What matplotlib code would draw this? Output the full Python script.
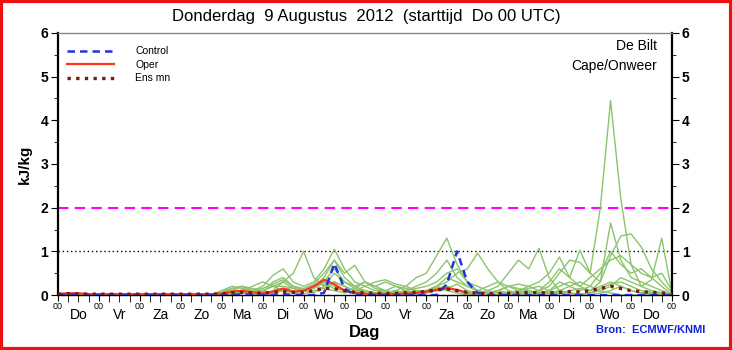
import numpy as np
import matplotlib.pyplot as plt
from matplotlib.patches import Rectangle
from matplotlib.ticker import MultipleLocator, FixedLocator

plt.rcParams['font.family'] = ['Liberation Sans', 'DejaVu Sans']

# forecast steps, 6-hourly over 15 days
hours = np.arange(0, 361, 6)
day_names = ['Do', 'Vr', 'Za', 'Zo', 'Ma', 'Di', 'Wo',
             'Do', 'Vr', 'Za', 'Zo', 'Ma', 'Di', 'Wo', 'Do']

# ensemble members: first 4 days zero, then values from Ma (step 16) to the end
quiet = [0.0] * 16
members = [
    quiet + [0.05, 0.15, 0.2, 0.15, 0.1, 0.2, 0.3, 0.5, 1.0, 0.4, 0.2, 0.3,
             0.2, 0.1, 0.1, 0.05, 0.05, 0.1, 0.2, 0.4, 0.5, 0.9, 1.3, 0.7,
             0.3, 0.1, 0.05, 0.05, 0.0, 0.0, 0.0, 0.05, 0.1, 0.05, 0.0, 0.0,
             0.05, 0.1, 0.05, 0.0, 0.0, 0.0, 0.05, 0.0, 0.0],
    quiet + [0.1, 0.2, 0.15, 0.1, 0.2, 0.45, 0.6, 0.3, 0.2, 0.3, 0.6, 1.05,
             0.6, 0.3, 0.2, 0.1, 0.1, 0.2, 0.15, 0.1, 0.1, 0.2, 0.3, 0.5,
             0.6, 0.96, 0.6, 0.3, 0.1, 0.05, 0.0, 0.0, 0.05, 0.1, 0.05, 0.0,
             0.0, 0.05, 0.1, 0.2, 0.1, 0.05, 0.0, 0.0, 0.0],
    quiet + [0.0, 0.1, 0.2, 0.1, 0.05, 0.3, 0.4, 0.2, 0.1, 0.2, 0.4, 0.8,
             0.5, 0.68, 0.3, 0.2, 0.3, 0.2, 0.1, 0.05, 0.1, 0.2, 0.1, 0.05,
             0.0, 0.05, 0.1, 0.2, 0.5, 0.8, 0.6, 1.07, 0.4, 0.1, 0.2, 0.3,
             0.2, 0.1, 0.2, 0.4, 0.3, 0.2, 0.35, 1.3, 0.05],
    quiet + [0.0, 0.05, 0.1, 0.2, 0.3, 0.2, 0.1, 0.05, 0.1, 0.2, 0.15, 0.1,
             0.05, 0.1, 0.2, 0.3, 0.35, 0.25, 0.2, 0.1, 0.1, 0.2, 0.4, 0.3,
             0.2, 0.1, 0.05, 0.1, 0.2, 0.25, 0.2, 0.1, 0.2, 0.5, 0.8, 0.75,
             0.5, 2.0, 4.45, 2.2, 0.7, 0.2, 0.1, 0.05, 0.0],
    quiet + [0.0, 0.0, 0.05, 0.1, 0.1, 0.05, 0.1, 0.2, 0.1, 0.05, 0.2, 0.5,
             0.3, 0.2, 0.1, 0.05, 0.0, 0.05, 0.1, 0.05, 0.05, 0.1, 0.2, 0.1,
             0.05, 0.0, 0.05, 0.1, 0.2, 0.1, 0.05, 0.1, 0.3, 0.6, 0.4, 1.03,
             0.5, 0.3, 1.65, 0.8, 0.4, 0.3, 0.2, 0.1, 0.0],
    quiet + [0.05, 0.1, 0.05, 0.0, 0.0, 0.1, 0.3, 0.15, 0.1, 0.2, 0.3, 0.2,
             0.1, 0.15, 0.3, 0.2, 0.1, 0.05, 0.1, 0.2, 0.3, 0.5, 0.8, 0.4,
             0.2, 0.1, 0.05, 0.0, 0.05, 0.1, 0.2, 0.3, 0.5, 0.87, 0.4, 0.2,
             0.1, 0.3, 0.9, 1.35, 1.4, 1.1, 0.6, 0.3, 0.05],
    quiet + [0.1, 0.15, 0.2, 0.1, 0.15, 0.25, 0.35, 0.2, 0.15, 0.25, 0.5, 0.8,
             0.4, 0.2, 0.3, 0.15, 0.1, 0.05, 0.1, 0.15, 0.2, 0.3, 0.5, 0.6,
             0.3, 0.2, 0.1, 0.05, 0.05, 0.1, 0.15, 0.2, 0.1, 0.2, 0.3, 0.2,
             0.4, 0.6, 0.8, 0.9, 0.7, 0.5, 0.4, 0.2, 0.0],
    quiet + [0.05, 0.1, 0.1, 0.05, 0.1, 0.2, 0.2, 0.15, 0.1, 0.15, 0.3, 0.6,
             0.3, 0.15, 0.1, 0.05, 0.05, 0.1, 0.05, 0.0, 0.05, 0.15, 0.2, 0.1,
             0.05, 0.1, 0.2, 0.3, 0.2, 0.15, 0.1, 0.05, 0.1, 0.3, 0.2, 0.1,
             0.2, 0.5, 1.0, 0.7, 0.5, 0.6, 0.4, 0.5, 0.1],
    quiet + [0.02, 0.05, 0.1, 0.05, 0.02, 0.05, 0.1, 0.05, 0.1, 0.2, 0.25, 0.15,
             0.1, 0.05, 0.02, 0.05, 0.1, 0.05, 0.02, 0.05, 0.1, 0.15, 0.2, 0.1,
             0.05, 0.02, 0.05, 0.1, 0.05, 0.02, 0.05, 0.1, 0.05, 0.02, 0.1, 0.15,
             0.1, 0.2, 0.3, 0.2, 0.1, 0.05, 0.1, 0.05, 0.0],
    quiet + [0.0, 0.02, 0.05, 0.02, 0.0, 0.05, 0.1, 0.05, 0.02, 0.1, 0.15, 0.3,
             0.2, 0.1, 0.05, 0.02, 0.0, 0.02, 0.05, 0.1, 0.05, 0.1, 0.15, 0.25,
             0.1, 0.05, 0.02, 0.0, 0.02, 0.05, 0.1, 0.05, 0.02, 0.1, 0.05, 0.02,
             0.05, 0.15, 0.25, 0.3, 0.2, 0.1, 0.05, 0.02, 0.0],
]

control = [0.02, 0.02, 0.02, 0.0, 0.0, 0.0, 0.0, 0.0, 0.0, 0.0, 0.0, 0.0,
           0.0, 0.0, 0.0, 0.0, 0.0, 0.0, 0.02, 0.0, 0.0, 0.0, 0.02, 0.0,
           0.0, 0.0, 0.05, 0.72, 0.15, 0.0, 0.0, 0.0, 0.0, 0.0, 0.0, 0.0,
           0.0, 0.0, 0.25, 1.0, 0.3, 0.05, 0.0, 0.0, 0.0, 0.0, 0.0, 0.0,
           0.0, 0.0, 0.0, 0.0, 0.0, 0.0, 0.0, 0.0, 0.0, 0.0, 0.0, 0.0, 0.0]

# operational run only goes 10 days
oper = [0.02, 0.04, 0.04, 0.02, 0.02, 0.02, 0.02, 0.02, 0.02, 0.02, 0.02, 0.02,
        0.02, 0.02, 0.02, 0.02, 0.03, 0.08, 0.1, 0.06, 0.04, 0.08, 0.15, 0.08,
        0.1, 0.2, 0.35, 0.25, 0.1, 0.05, 0.03, 0.02, 0.02, 0.02, 0.03, 0.05,
        0.08, 0.12, 0.15, 0.12, 0.05]

ens_mean = [0.02, 0.03, 0.03, 0.02, 0.02, 0.02, 0.02, 0.02, 0.02, 0.02, 0.02, 0.02,
            0.02, 0.02, 0.02, 0.02, 0.03, 0.05, 0.06, 0.05, 0.04, 0.06, 0.08, 0.06,
            0.06, 0.1, 0.15, 0.15, 0.1, 0.06, 0.05, 0.04, 0.03, 0.04, 0.05, 0.06,
            0.08, 0.12, 0.14, 0.1, 0.06, 0.04, 0.03, 0.03, 0.04, 0.05, 0.06, 0.05,
            0.05, 0.06, 0.08, 0.07, 0.1, 0.15, 0.2, 0.15, 0.1, 0.08, 0.06, 0.05, 0.03]

fig = plt.figure(figsize=(7.32, 3.5), dpi=100)
ax = fig.add_axes([0.0792, 0.157, 0.8388, 0.749])

for m in members:
    ax.plot(hours, m, color='#8cc46c', lw=1.0, zorder=2)

ax.axhline(2, color='#ff00ff', ls=(0, (5, 3)), lw=1.5, zorder=1)
ax.axhline(1, color='black', ls=(0, (1, 2)), lw=1.0, zorder=1)

ln_c, = ax.plot(hours, control, color='#2233dd', ls=(0, (3, 2)), lw=1.8, zorder=4)
ln_o, = ax.plot(hours[:len(oper)], oper, color='#ff3322', lw=1.6, zorder=3)
ln_e, = ax.plot(hours, ens_mean, color='#7a1a10', ls=(0, (1, 1.6)), lw=2.4, zorder=5)

ax.legend([ln_c, ln_o, ln_e], ['Control', 'Oper', 'Ens mn'], loc='upper left',
          bbox_to_anchor=(0.0, 0.985), frameon=False, fontsize=7.5,
          handlelength=4.5, labelspacing=0.35, handletextpad=2.0)

ax.set_xlim(0, 360)
ax.set_ylim(0, 6)

# y axis on both sides
ax.yaxis.set_major_locator(MultipleLocator(1))
ax.yaxis.set_minor_locator(MultipleLocator(0.5))
ax.tick_params(axis='y', which='both', left=True, right=True, labelleft=True,
               labelright=True, direction='out')
ax.tick_params(axis='y', which='major', length=5, labelsize=10, pad=2)
ax.tick_params(axis='y', which='minor', length=3)
for lab in ax.get_yticklabels():
    lab.set_fontweight('bold')

# x axis: 00 at day boundaries, ticks every 6h
ax.xaxis.set_major_locator(FixedLocator(np.arange(0, 361, 24)))
ax.xaxis.set_minor_locator(FixedLocator(np.arange(0, 361, 6)))
ax.set_xticklabels(['00'] * 16)
ax.tick_params(axis='x', which='major', length=4, labelsize=6.5, pad=1)
ax.tick_params(axis='x', which='minor', length=5)

for k, name in enumerate(day_names):
    ax.text(k * 24 + 12, -0.05, name, transform=ax.get_xaxis_transform(),
            ha='center', va='top', fontsize=10)

ax.spines['left'].set_linewidth(1.6)
ax.spines['right'].set_linewidth(1.6)
ax.spines['bottom'].set_linewidth(1.0)
ax.spines['top'].set_color('#888888')
ax.spines['top'].set_linewidth(1.0)

ax.set_ylabel('kJ/kg', fontsize=11, fontweight='bold', labelpad=6)
ax.text(0.5, -0.115, 'Dag', transform=ax.transAxes, ha='center', va='top',
        fontsize=12, fontweight='bold')

ax.text(0.975, 0.975, 'De Bilt', transform=ax.transAxes, ha='right', va='top',
        fontsize=10)
ax.text(0.975, 0.90, 'Cape/Onweer', transform=ax.transAxes, ha='right', va='top',
        fontsize=10)

fig.text(0.5, 0.952, 'Donderdag  9 Augustus  2012  (starttijd  Do 00 UTC)',
         ha='center', va='center', fontsize=12)
fig.text(0.963, 0.058, 'Bron:  ECMWF/KNMI', ha='right', va='center',
         fontsize=8, color='#1122dd', fontweight='bold')

fig.patches.append(Rectangle((0.002, 0.003), 0.996, 0.994, transform=fig.transFigure,
                             fill=False, edgecolor='#ee1111', lw=3))

fig.savefig('out.png', dpi=100)
